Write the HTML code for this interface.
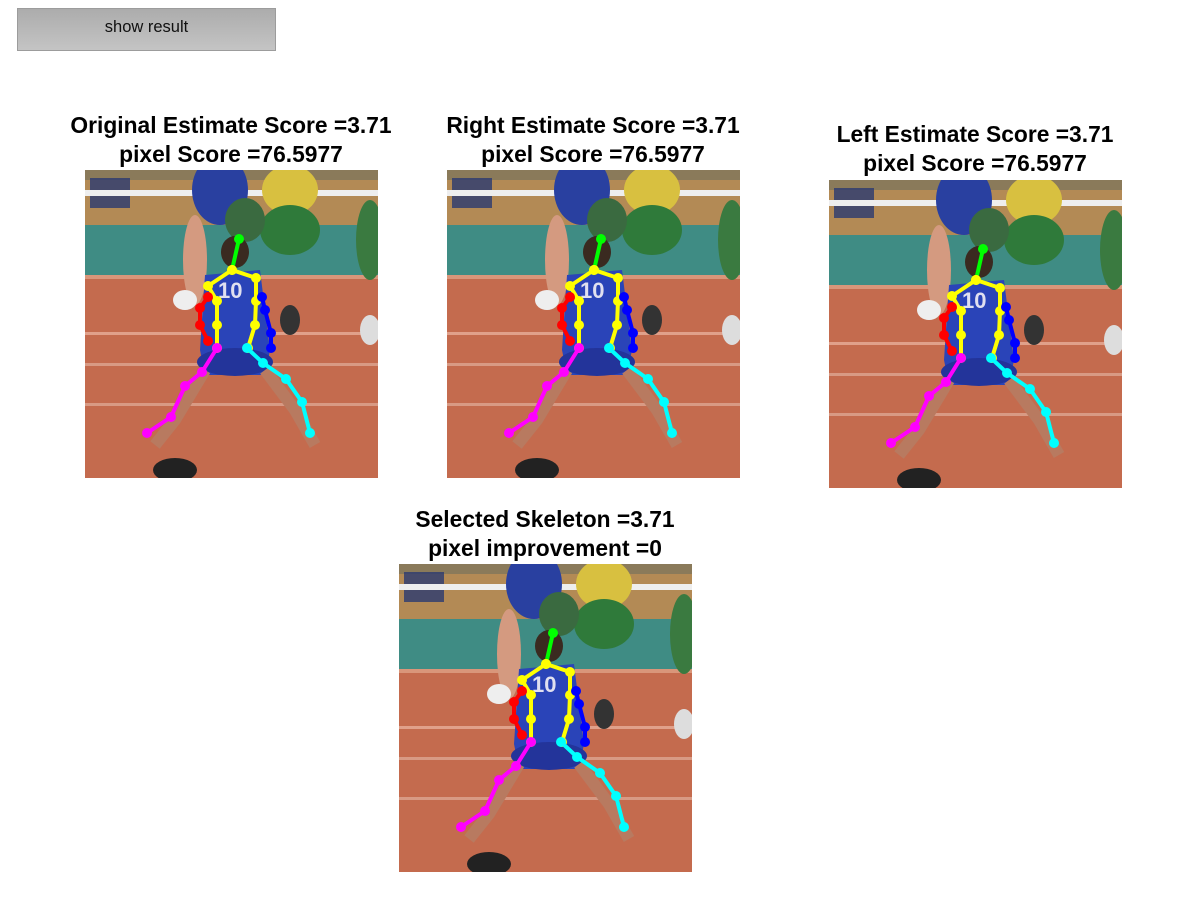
<!DOCTYPE html>
<html><head><meta charset="utf-8">
<style>
body{margin:0;width:1200px;height:900px;background:#fff;position:relative;overflow:hidden;font-family:"Liberation Sans",Helvetica,sans-serif}
#btn{position:absolute;left:17px;top:8px;width:257px;height:41px;border:1px solid #9c9c9c;background:linear-gradient(#acacac,#c4c4c4);font-size:16.5px;color:#111;display:flex;align-items:center;justify-content:center;box-sizing:content-box;padding-bottom:4px;height:37px}
.title{position:absolute;width:440px;text-align:center;font-weight:bold;font-size:22.8px;line-height:29px;color:#000}
svg.photo{position:absolute;width:293px;height:308px}
</style></head><body>
<div id="btn">show result</div>
<div class="title" style="left:11px;top:111px">Original Estimate Score =3.71<br>pixel Score =76.5977</div>
<div class="title" style="left:373px;top:111px">Right Estimate Score =3.71<br>pixel Score =76.5977</div>
<div class="title" style="left:755px;top:120px">Left Estimate Score =3.71<br>pixel Score =76.5977</div>
<div class="title" style="left:325px;top:505px">Selected Skeleton =3.71<br>pixel improvement =0</div>
<script>
// skeleton joints (image-local px) per limb
const head=[[154,69],[147,100]];
const torsoL=[[147,100],[123,116],[132,131],[132,155],[132,178]];
const torsoR=[[147,100],[171,108],[171,131],[170,155],[163,178]];
const armR=[[123,127],[115,138],[115,155],[123,171]];
const armL=[[177,127],[180,140],[186,163],[186,178]];
const legR=[[132,178],[117,202],[100,216],[86,247],[62,263]];
const legL=[[162,178],[178,193],[201,209],[217,232],[225,263]];
const limbs=[[head,'#00ff00','head'],[torsoL,'#ffff00','torso-left'],[torsoR,'#ffff00','torso-right'],[armR,'#ff0000','right-arm'],[armL,'#0000ff','left-arm'],[legR,'#ff00ff','right-leg'],[legL,'#00ffff','left-leg']];
const panels=[[85,170,'original-image'],[447,170,'right-image'],[829,180,'left-image'],[399,564,'selected-image']];
const bg=`
<rect width="293" height="308" fill="#c46b4e"/>
<rect width="293" height="55" fill="#b38a55"/>
<rect y="0" width="293" height="10" fill="#8a7a5a"/>
<rect x="5" y="8" width="40" height="30" fill="#2a3a70" opacity=".8"/>
<rect y="20" width="293" height="6" fill="#eeeeee"/>
<rect y="55" width="293" height="53" fill="#3f8c84"/>
<rect y="105" width="293" height="4" fill="#d9967a"/>
<rect y="162" width="293" height="3" fill="#e0a08a"/>
<rect y="193" width="293" height="3" fill="#d89a84"/>
<rect y="233" width="293" height="3" fill="#d89a84"/>
<ellipse cx="135" cy="20" rx="28" ry="35" fill="#2940a0"/>
<ellipse cx="110" cy="90" rx="12" ry="45" fill="#d49a80"/>
<ellipse cx="205" cy="20" rx="28" ry="25" fill="#d8c040"/>
<ellipse cx="205" cy="60" rx="30" ry="25" fill="#2f7a3a"/>
<ellipse cx="160" cy="50" rx="20" ry="22" fill="#3a6a40"/>
<ellipse cx="285" cy="70" rx="14" ry="40" fill="#3a7a40"/>
<ellipse cx="100" cy="130" rx="12" ry="10" fill="#eee"/>
<ellipse cx="205" cy="150" rx="10" ry="15" fill="#333"/>
<ellipse cx="285" cy="160" rx="10" ry="15" fill="#ddd"/>
<ellipse cx="150" cy="82" rx="14" ry="16" fill="#3a2a20"/>
<path d="M120 105 L175 100 L185 180 L180 205 L120 205 L115 180 Z" fill="#2a44b8"/>
<ellipse cx="150" cy="192" rx="38" ry="14" fill="#23349a"/>
<text x="133" y="128" font-family="Liberation Sans" font-weight="bold" font-size="22" fill="#e0e0f0">10</text>
<path d="M120 200 L90 250 L70 275 M180 200 L210 240 L230 275" stroke="#b87a60" stroke-width="12" fill="none"/>
<ellipse cx="90" cy="300" rx="22" ry="12" fill="#222"/>`;
panels.forEach(([x,y,name])=>{
  const s=document.createElementNS('http://www.w3.org/2000/svg','svg');
  s.setAttribute('class','photo');
  s.setAttribute('viewBox','0 0 293 308');
  s.style.left=x+'px';s.style.top=y+'px';
  
  
  let h=bg;
  limbs.forEach(([pts,c,n])=>{
    h+=`<polyline points="${pts.map(p=>p.join(',')).join(' ')}" stroke="${c}" stroke-width="4" fill="none" stroke-linejoin="round"/>`;
    pts.forEach(p=>{h+=`<circle cx="${p[0]}" cy="${p[1]}" r="5" fill="${c}"/>`;});
  });
  s.innerHTML=h;
  document.body.appendChild(s);
});
</script>
</body></html>
